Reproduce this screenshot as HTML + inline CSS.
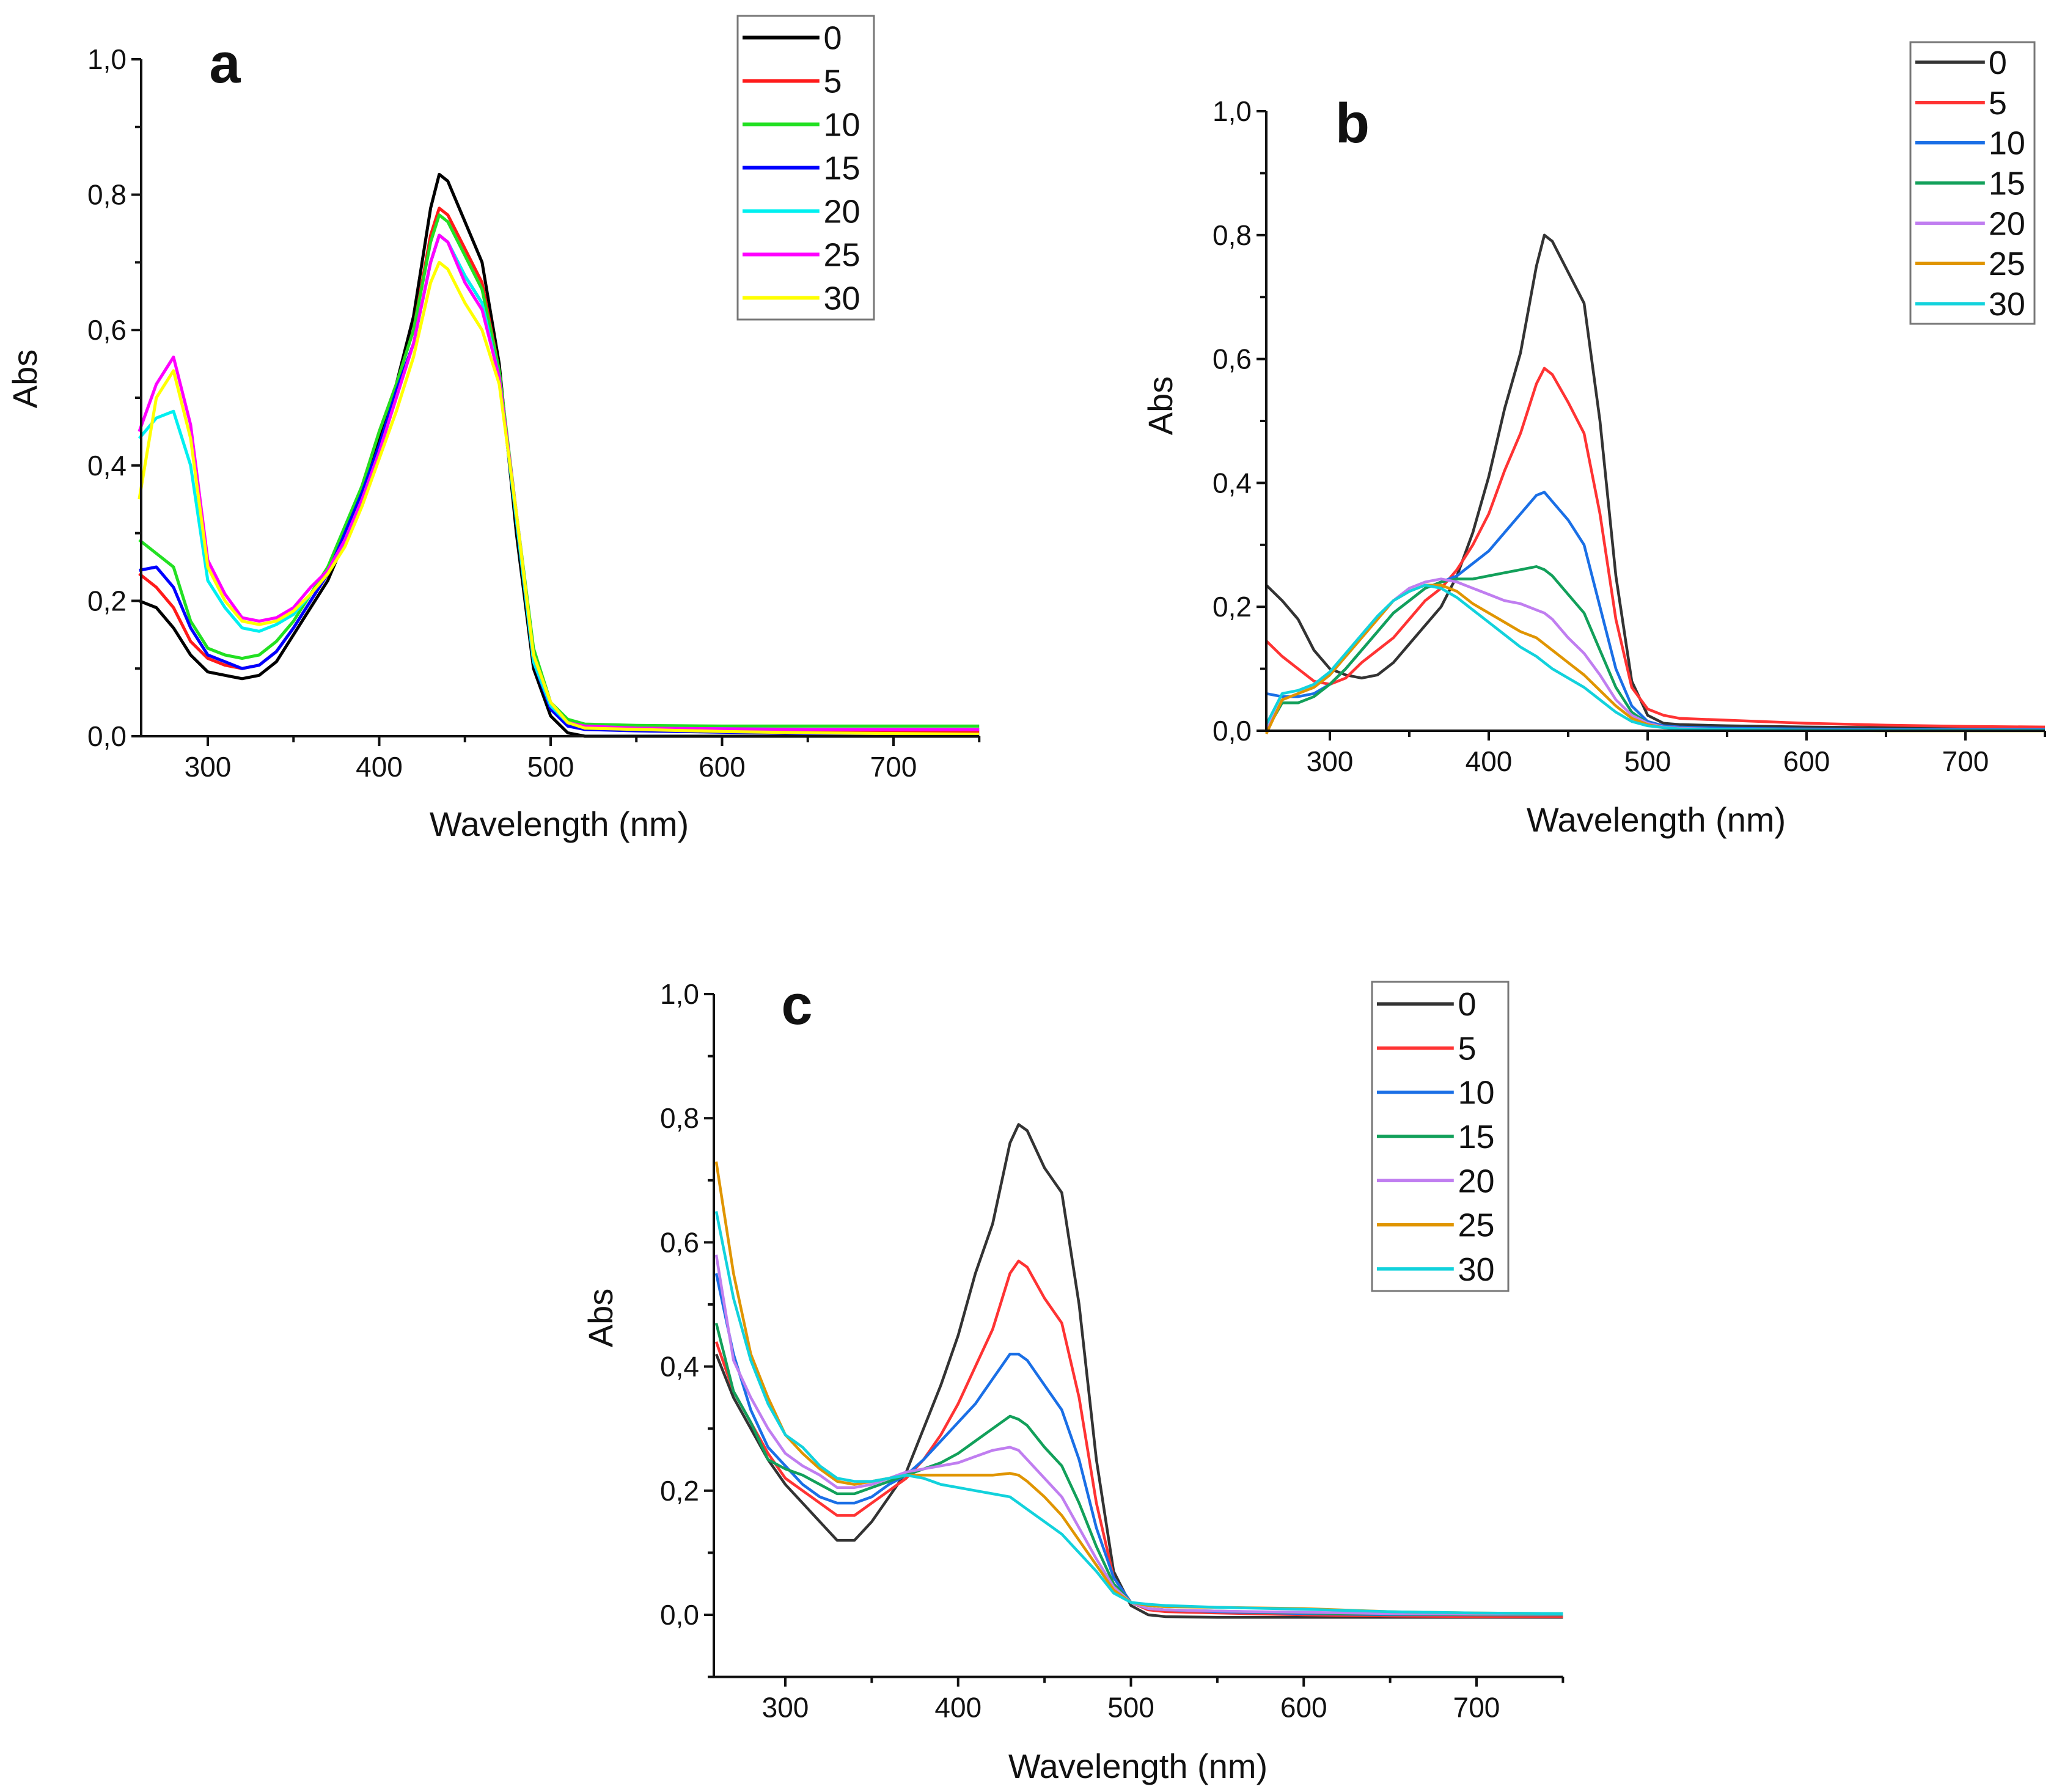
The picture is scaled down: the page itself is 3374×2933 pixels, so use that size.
<!DOCTYPE html>
<html><head><meta charset="utf-8">
<style>
html,body{margin:0;padding:0;background:#fff;}
svg{display:block;}
text{font-family:"Liberation Sans",Arial,sans-serif;fill:#111;}
</style></head>
<body>
<svg id="fig" width="3374" height="2933" viewBox="0 0 3374 2933" xmlns="http://www.w3.org/2000/svg"></svg>
<script>
const wavelengths=[260,270,280,290,300,310,320,330,340,350,360,370,380,390,400,410,420,430,435,440,450,460,470,480,490,500,510,520,550,600,650,700,750];
const seriesLabels=["0","5","10","15","20","25","30"];
const xTicks=[300,400,500,600,700];
const yTicks=[0,0.2,0.4,0.6,0.8,1.0];
const yTickLabels=["0,0","0,2","0,4","0,6","0,8","1,0"];

const a0=[0.20,0.19,0.16,0.12,0.095,0.09,0.085,0.09,0.11,0.15,0.19,0.23,0.29,0.36,0.44,0.52,0.62,0.78,0.83,0.82,0.76,0.70,0.55,0.30,0.10,0.03,0.005,0,0,0,0,0,0];
const a5=[0.24,0.22,0.19,0.14,0.115,0.105,0.10,0.105,0.125,0.16,0.20,0.24,0.30,0.37,0.45,0.52,0.60,0.74,0.78,0.77,0.72,0.67,0.54,0.32,0.12,0.045,0.02,0.012,0.01,0.008,0.007,0.006,0.006];
const a10=[0.29,0.27,0.25,0.17,0.13,0.12,0.115,0.12,0.14,0.17,0.21,0.25,0.31,0.37,0.45,0.52,0.60,0.73,0.77,0.76,0.71,0.66,0.54,0.33,0.13,0.05,0.025,0.018,0.016,0.015,0.015,0.015,0.015];
const a15=[0.245,0.25,0.22,0.16,0.12,0.11,0.10,0.105,0.125,0.16,0.20,0.24,0.30,0.36,0.43,0.51,0.58,0.70,0.74,0.73,0.68,0.64,0.53,0.32,0.11,0.04,0.015,0.01,0.008,0.006,0.004,0.003,0.002];
const a20=[0.44,0.47,0.48,0.40,0.23,0.19,0.16,0.155,0.165,0.18,0.21,0.24,0.29,0.35,0.42,0.50,0.58,0.70,0.74,0.73,0.68,0.64,0.53,0.32,0.11,0.045,0.02,0.015,0.012,0.011,0.01,0.01,0.01];
const a25=[0.45,0.52,0.56,0.46,0.26,0.21,0.175,0.17,0.175,0.19,0.22,0.245,0.29,0.35,0.42,0.50,0.58,0.70,0.74,0.73,0.67,0.63,0.53,0.33,0.12,0.05,0.02,0.015,0.012,0.011,0.01,0.01,0.01];
const a30=[0.35,0.50,0.54,0.44,0.25,0.20,0.17,0.165,0.17,0.185,0.21,0.24,0.28,0.34,0.41,0.48,0.56,0.67,0.70,0.69,0.64,0.60,0.52,0.33,0.12,0.05,0.02,0.012,0.01,0.007,0.005,0.004,0.003];

const b0=[0.235,0.21,0.18,0.13,0.10,0.09,0.085,0.09,0.11,0.14,0.17,0.20,0.25,0.32,0.41,0.52,0.61,0.75,0.80,0.79,0.74,0.69,0.50,0.25,0.08,0.025,0.012,0.01,0.008,0.006,0.005,0.004,0.004];
const b5=[0.145,0.12,0.10,0.08,0.075,0.085,0.11,0.13,0.15,0.18,0.21,0.23,0.26,0.30,0.35,0.42,0.48,0.56,0.585,0.575,0.53,0.48,0.35,0.18,0.07,0.035,0.025,0.02,0.017,0.012,0.009,0.007,0.006];
const b10=[0.06,0.055,0.055,0.06,0.075,0.10,0.13,0.16,0.19,0.21,0.23,0.24,0.25,0.27,0.29,0.32,0.35,0.38,0.385,0.37,0.34,0.30,0.20,0.10,0.04,0.015,0.008,0.006,0.004,0.003,0.002,0.002,0.002];
const b15=[0.0,0.045,0.045,0.055,0.075,0.10,0.13,0.16,0.19,0.21,0.23,0.24,0.245,0.245,0.25,0.255,0.26,0.265,0.26,0.25,0.22,0.19,0.13,0.07,0.03,0.012,0.006,0.004,0.002,0.001,0,0,0];
const b20=[0.0,0.05,0.06,0.07,0.09,0.12,0.15,0.18,0.21,0.23,0.24,0.245,0.24,0.23,0.22,0.21,0.205,0.195,0.19,0.18,0.15,0.125,0.09,0.05,0.025,0.012,0.006,0.004,0.002,0.001,0.001,0.001,0.001];
const b25=[-0.005,0.05,0.06,0.07,0.09,0.12,0.15,0.18,0.21,0.225,0.235,0.235,0.225,0.205,0.19,0.175,0.16,0.15,0.14,0.13,0.11,0.09,0.065,0.04,0.02,0.01,0.005,0.003,0.002,0.001,0,0,0];
const b30=[0.01,0.06,0.065,0.075,0.095,0.125,0.155,0.185,0.21,0.225,0.235,0.23,0.215,0.195,0.175,0.155,0.135,0.12,0.11,0.10,0.085,0.07,0.05,0.03,0.015,0.008,0.005,0.003,0.002,0.001,0.001,0.001,0.001];

const c0=[0.42,0.35,0.30,0.25,0.21,0.18,0.15,0.12,0.12,0.15,0.19,0.23,0.30,0.37,0.45,0.55,0.63,0.76,0.79,0.78,0.72,0.68,0.50,0.25,0.07,0.015,0.0,-0.003,-0.004,-0.004,-0.004,-0.004,-0.004];
const c5=[0.44,0.36,0.31,0.26,0.22,0.20,0.18,0.16,0.16,0.18,0.20,0.22,0.25,0.29,0.34,0.40,0.46,0.55,0.57,0.56,0.51,0.47,0.35,0.18,0.06,0.02,0.008,0.005,0.003,0.0,-0.002,-0.003,-0.003];
const c10=[0.55,0.42,0.33,0.27,0.24,0.21,0.19,0.18,0.18,0.19,0.21,0.225,0.25,0.28,0.31,0.34,0.38,0.42,0.42,0.41,0.37,0.33,0.25,0.14,0.06,0.02,0.01,0.008,0.005,0.002,0,0,0];
const c15=[0.47,0.36,0.31,0.25,0.235,0.225,0.21,0.195,0.195,0.205,0.215,0.225,0.235,0.245,0.26,0.28,0.30,0.32,0.315,0.305,0.27,0.24,0.18,0.11,0.05,0.02,0.01,0.008,0.006,0.003,0.001,0,0];
const c20=[0.58,0.41,0.35,0.30,0.26,0.24,0.225,0.205,0.205,0.21,0.22,0.23,0.235,0.24,0.245,0.255,0.265,0.27,0.265,0.25,0.22,0.19,0.14,0.09,0.045,0.02,0.01,0.008,0.006,0.004,0.002,0.001,0.001];
const c25=[0.73,0.55,0.42,0.35,0.29,0.26,0.235,0.215,0.21,0.215,0.22,0.225,0.225,0.225,0.225,0.225,0.225,0.228,0.225,0.215,0.19,0.16,0.12,0.08,0.04,0.02,0.015,0.013,0.012,0.01,0.005,0.003,0.002];
const c30=[0.65,0.51,0.41,0.34,0.29,0.27,0.24,0.22,0.215,0.215,0.22,0.225,0.22,0.21,0.205,0.20,0.195,0.19,0.18,0.17,0.15,0.13,0.10,0.07,0.035,0.02,0.017,0.015,0.012,0.009,0.005,0.003,0.002];

const colorsA=["#000000","#ff1a1a","#22e022","#0000ff","#00f0f0","#ff00ff","#ffff00"];
const colorsBC=["#333333","#ff3333","#1a6fe6","#12a05a","#c07ef0","#e09500","#12d2dc"];

const NS="http://www.w3.org/2000/svg";
const svg=document.getElementById('fig');
function mk(tag,attrs,parent){const e=document.createElementNS(NS,tag);for(const k in attrs)e.setAttribute(k,attrs[k]);(parent||svg).appendChild(e);return e;}

function drawPanel(p){
  const g=mk('g',{});
  
  
  const xs=v=>p.x300+(v-300)*(p.x700-p.x300)/400;
  const ys=v=>p.y0-(v)*(p.y0-p.y1);
  const xEnd=xs(750), yBot=ys(p.ymin);
  p.series.forEach((arr,i)=>{
    let d='';
    const n=Math.min(arr.length,wavelengths.length);
    for(let k=0;k<n;k++){d+=(k?'L':'M')+xs(wavelengths[k]).toFixed(1)+' '+ys(arr[k]).toFixed(1);}
    const path=mk('path',{d:d,fill:'none',stroke:p.colors[i],'stroke-width':p.lw,'stroke-linejoin':'round'},g);
    
    
  });
  const ax=mk('path',{d:`M${p.axX} ${ys(1)}L${p.axX} ${yBot}L${xEnd} ${yBot}`,fill:'none',stroke:'#111','stroke-width':4},g);
  
  
  for(let v=p.ymin;v<=1.0001;v+=0.1){
    const major=Math.abs(Math.round(v*10)%2)===0;
    mk('line',{x1:p.axX-(major?16:10),x2:p.axX,y1:ys(v),y2:ys(v),stroke:'#111','stroke-width':4},g);
  }
  yTicks.forEach((v,i)=>{
    const t=mk('text',{x:p.axX-24,y:ys(v)+16,'text-anchor':'end','font-size':46},g);
    t.textContent=yTickLabels[i];
    
    
  });
  for(let v=300;v<=750;v+=50){
    const major=v%100===0;
    mk('line',{x1:xs(v),x2:xs(v),y1:yBot,y2:yBot+(major?16:10),stroke:'#111','stroke-width':4},g);
  }
  xTicks.forEach(v=>{
    const t=mk('text',{x:xs(v),y:yBot+66,'text-anchor':'middle','font-size':46},g);
    t.textContent=String(v);
    
    
  });
  const xt=mk('text',{x:p.titleX,y:p.titleY,'text-anchor':'middle','font-size':56},g);
  xt.textContent='Wavelength (nm)';
  
  
  const yt=mk('text',{x:p.absX,y:p.absY,'text-anchor':'middle','font-size':56,transform:`rotate(-90 ${p.absX} ${p.absY})`},g);
  yt.textContent='Abs';
  
  
  const lab=mk('text',{x:p.labX,y:p.labY,'text-anchor':'middle','font-size':92,'font-weight':'bold'},g);
  lab.textContent=p.id;
  
  
  const L=p.leg;
  const lg=mk('g',{},g);
  
  
  mk('rect',{x:L.x,y:L.y,width:L.w,height:L.h,fill:'#fff',stroke:'#777','stroke-width':3},lg);
  const step=L.h/7;
  seriesLabels.forEach((s,i)=>{
    const cy=L.y+step*(i+0.5);
    const ln=mk('line',{x1:L.x+8,x2:L.x+L.w*0.6,y1:cy,y2:cy,stroke:p.colors[i],'stroke-width':p.lw+1},lg);
    
    
    const t=mk('text',{x:L.x+L.w*0.63,y:cy+19,'font-size':54},lg);
    t.textContent=s;
    
    
  });
}

drawPanel({id:'a',series:[a0,a5,a10,a15,a20,a25,a30],colors:colorsA,lw:5,axX:231,x300:340,x700:1462,y1:97,y0:1205,ymin:0,
  titleX:915,titleY:1368,absX:60,absY:620,labX:368,labY:135,leg:{x:1207,y:26,w:223,h:497}});
drawPanel({id:'b',series:[b0,b5,b10,b15,b20,b25,b30],colors:colorsBC,lw:4.5,axX:2072,x300:2176,x700:3216,y1:182,y0:1196,ymin:0,
  titleX:2710,titleY:1361,absX:1918,absY:664,labX:2213,labY:233,leg:{x:3126,y:69,w:203,h:461}});
drawPanel({id:'c',series:[c0,c5,c10,c15,c20,c25,c30],colors:colorsBC,lw:4.5,axX:1168,x300:1285,x700:2416,y1:1627,y0:2643,ymin:-0.1,
  titleX:1862,titleY:2910,absX:1002,absY:2157,labX:1304,labY:1676,leg:{x:2245,y:1607,w:223,h:506}});
</script>
</body></html>
